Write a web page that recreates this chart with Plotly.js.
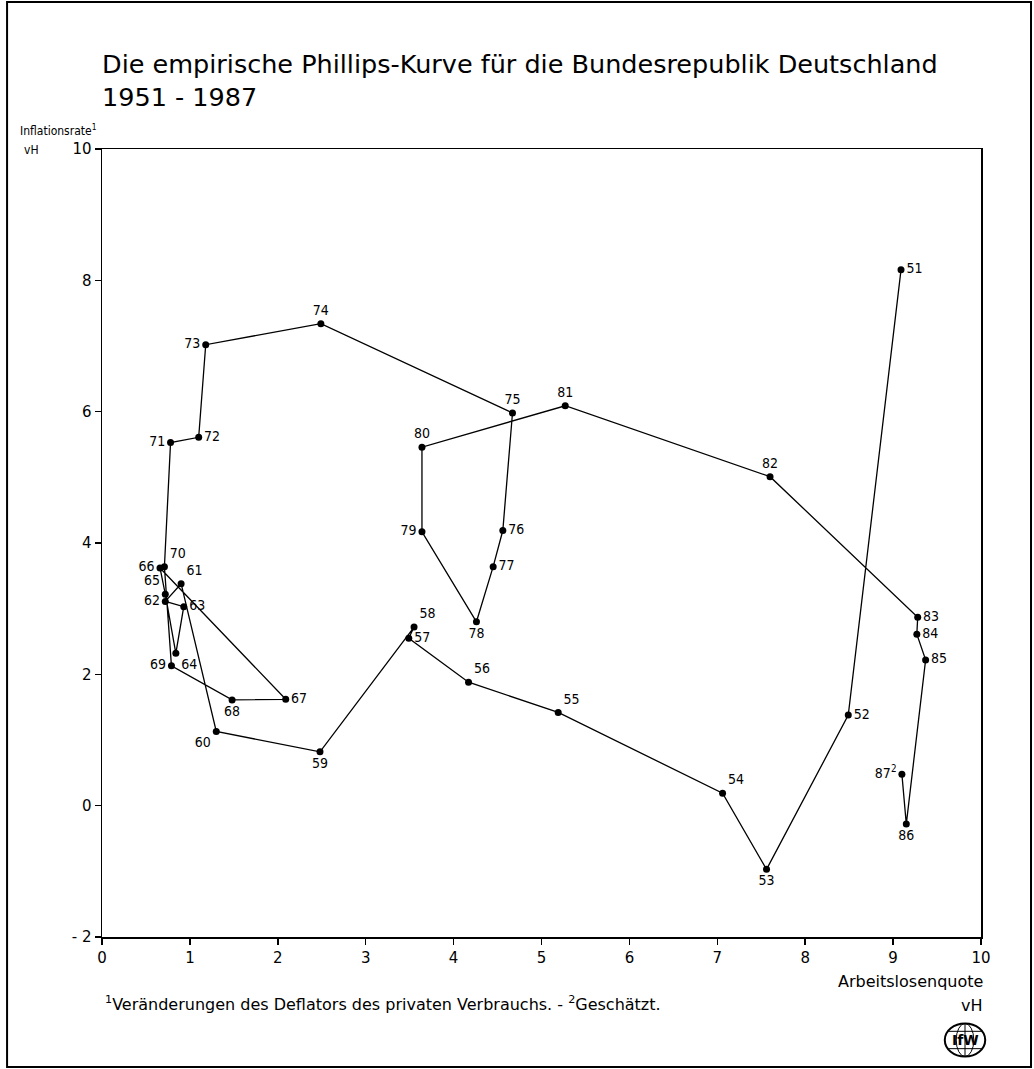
<!DOCTYPE html>
<html>
<head>
<meta charset="utf-8">
<script src="https://cdn.plot.ly/plotly-3.0.1.min.js"></script>
<style>html,body{margin:0;padding:0;background:#fff;}#chart{width:1034px;height:1069px;}</style>
</head>
<body>
<div id="chart"></div>
<script>
// Year labels (19xx)
const years = ["51","52","53","54","55","56","57","58","59","60","61","62","63","64","65","66","67","68","69","70","71","72","73","74","75","76","77","78","79","80","81","82","83","84","85","86","87<sup>2</sup>"];
// Arbeitslosenquote (vH)
const unemployment = [9.09,8.49,7.56,7.06,5.19,4.17,3.49,3.55,2.48,1.30,0.90,0.72,0.93,0.84,0.72,0.66,2.09,1.48,0.79,0.71,0.78,1.10,1.18,2.49,4.67,4.56,4.45,4.26,3.64,3.64,5.27,7.60,9.28,9.27,9.37,9.15,9.10];
// Inflationsrate (vH)
const inflation = [8.16,1.38,-0.97,0.19,1.42,1.88,2.55,2.72,0.82,1.13,3.38,3.11,3.03,2.32,3.22,3.62,1.62,1.61,2.13,3.64,5.53,5.61,7.02,7.34,5.98,4.19,3.64,2.80,4.17,5.46,6.09,5.01,2.87,2.61,2.22,-0.28,0.48];
// Label positions
const labelPos = ["middle right","middle right","bottom center","top right","top right","top right","middle right","top right","bottom center","bottom left",
  "top right","middle left","middle right","bottom right","top left","middle left","middle right","bottom center","middle left","top right",
  "middle left","middle right","middle left","top center","top center","middle right","middle right","bottom center","middle left","top center",
  "top center","top center","middle right","middle right","middle right","bottom center","middle left"];

const yTickVals = [-2,0,2,4,6,8,10];
const yTickText = ["- 2","0","2","4","6","8","10"];
const xTickVals = [0,1,2,3,4,5,6,7,8,9,10];
const xTickText = ["0","1","2","3","4","5","6","7","8","9","10"];

const FONT = "DejaVu Sans Condensed, DejaVu Sans, Liberation Sans, sans-serif";
const WIDE = "DejaVu Sans, Liberation Sans, sans-serif";

const trace = {
  x: unemployment, y: inflation, text: years,
  mode: "lines+markers+text",
  type: "scatter",
  textposition: labelPos,
  textfont: {family: FONT, size: 14, color: "#000"},
  line: {color: "#000", width: 1.3},
  marker: {color: "#000", size: 7},
  cliponaxis: false,
  hoverinfo: "x+y+text"
};

const cx = 0.9818, cy = -0.1307;
const layout = {
  width: 1034, height: 1069,
  paper_bgcolor: "#fff", plot_bgcolor: "#fff",
  margin: {l: 102, r: 53, t: 149, b: 132},
  showlegend: false,
  font: {family: FONT, color: "#000"},
  title: {
    text: "Die empirische Phillips-Kurve für die Bundesrepublik Deutschland<br>1951 - 1987",
    font: {family: WIDE, size: 25.5, color: "#000"},
    xref: "paper", x: 0, xanchor: "left",
    yref: "container", y: 0.932, yanchor: "middle"
  },
  xaxis: {
    range: [0, 10], tickvals: xTickVals, ticktext: xTickText,
    showgrid: false, zeroline: false, showline: true, mirror: true,
    linecolor: "#000", linewidth: 1.5,
    ticks: "outside", ticklen: 6, tickcolor: "#000", tickwidth: 1.5,
    tickfont: {family: WIDE, size: 15, color: "#000"}
  },
  yaxis: {
    range: [-2, 10], tickvals: yTickVals, ticktext: yTickText,
    showgrid: false, zeroline: false, showline: true, mirror: true,
    linecolor: "#000", linewidth: 1.5,
    ticks: "outside", ticklen: 6, tickcolor: "#000", tickwidth: 1.5,
    tickfont: {family: WIDE, size: 15, color: "#000"}
  },
  annotations: [
    {text: "Inflationsrate<sup>1</sup>", xref: "paper", yref: "paper", x: -0.0956, y: 1.024, xanchor: "left", yanchor: "middle", showarrow: false, font: {family: FONT, size: 12}},
    {text: "vH", xref: "paper", yref: "paper", x: -0.091, y: 0.9987, xanchor: "left", yanchor: "middle", showarrow: false, font: {family: FONT, size: 12}},
    {text: "Arbeitslosenquote", xref: "paper", yref: "paper", x: 1.0046, y: -0.0571, xanchor: "right", yanchor: "middle", showarrow: false, font: {family: WIDE, size: 16}},
    {text: "vH", xref: "paper", yref: "paper", x: 1.0046, y: -0.0863, xanchor: "right", yanchor: "middle", showarrow: false, font: {family: WIDE, size: 16}},
    {text: "<sup>1</sup>Veränderungen des Deflators des privaten Verbrauchs. - <sup>2</sup>Geschätzt.", xref: "paper", yref: "paper", x: 0.001, y: -0.0838, xanchor: "left", yanchor: "middle", showarrow: false, font: {family: WIDE, size: 16}},
    {text: "<b>IfW</b>", xref: "paper", yref: "paper", x: cx, y: cy, xanchor: "center", yanchor: "middle", showarrow: false, font: {family: WIDE, size: 14}}
  ],
  shapes: [
    // outer frame
    {type: "rect", xref: "paper", yref: "paper", x0: -0.108, x1: 1.0569, y0: -0.165, y1: 1.1865, line: {color: "#000", width: 2}},
    // logo globe
    {type: "circle", xref: "paper", yref: "paper", x0: cx - 0.023, x1: cx + 0.023, y0: cy - 0.021, y1: cy + 0.021, line: {color: "#000", width: 2}},
    {type: "circle", xref: "paper", yref: "paper", x0: cx - 0.010, x1: cx + 0.010, y0: cy - 0.021, y1: cy + 0.021, line: {color: "#000", width: 1}},
    {type: "line", xref: "paper", yref: "paper", x0: cx, x1: cx, y0: cy - 0.021, y1: cy + 0.021, line: {color: "#000", width: 1}},
    {type: "line", xref: "paper", yref: "paper", x0: cx - 0.019, x1: cx + 0.019, y0: cy + 0.011, y1: cy + 0.011, line: {color: "#000", width: 1}},
    {type: "line", xref: "paper", yref: "paper", x0: cx - 0.019, x1: cx + 0.019, y0: cy - 0.011, y1: cy - 0.011, line: {color: "#000", width: 1}}
  ]
};

Plotly.newPlot("chart", [trace], layout, {displayModeBar: false, staticPlot: true});
</script>
</body>
</html>
